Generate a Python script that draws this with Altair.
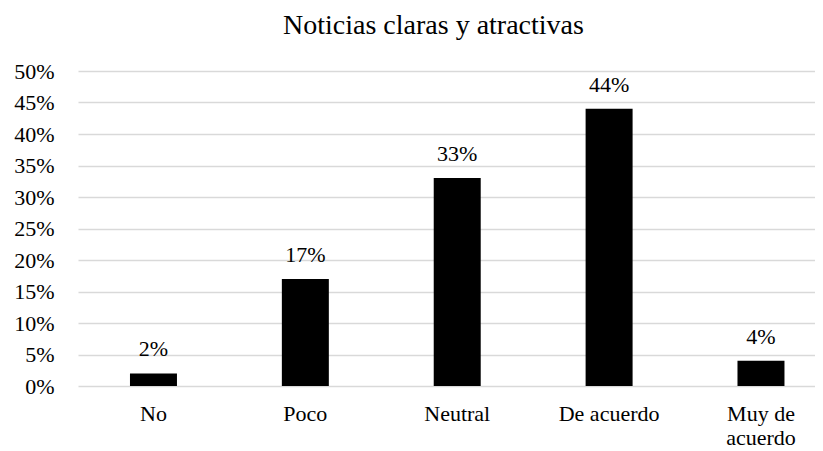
import altair as alt
import pandas as pd

categories = ["No", "Poco", "Neutral", "De acuerdo", "Muy de acuerdo"]
values = [2, 17, 33, 44, 4]
y_ticks = [0, 5, 10, 15, 20, 25, 30, 35, 40, 45, 50]
title_text = "Noticias claras y atractivas"

df = pd.DataFrame({"cat": categories, "val": values})
df["lbl"] = [f"{v}%" for v in values]

FONT = "Liberation Serif"

x = alt.X(
    "cat:N",
    sort=categories,
    scale=alt.Scale(paddingInner=0.6906, paddingOuter=0.2716, align=0.63),
    axis=alt.Axis(
        title=None, labelAngle=0, domain=False, ticks=False, labelPadding=17,
        labelFont=FONT, labelFontSize=22, labelColor="black", labelLineHeight=24,
        labelExpr="datum.label == 'Muy de acuerdo' ? ['Muy de', 'acuerdo'] : datum.label",
    ),
)
y = alt.Y(
    "val:Q",
    scale=alt.Scale(domain=[0, 50], nice=False),
    axis=alt.Axis(
        title=None, values=y_ticks, domain=False, ticks=False, labelPadding=24,
        labelFont=FONT, labelFontSize=22, labelColor="black",
        labelExpr="datum.value + '%'", gridColor="#d9d9d9", gridWidth=1.5,
    ),
)

bars = alt.Chart(df).mark_bar(color="black").encode(x=x, y=y)
text = alt.Chart(df).mark_text(
    font=FONT, fontSize=22, color="black", baseline="alphabetic", dy=-17
).encode(x=x, y=y, text="lbl:N")

chart = (bars + text).properties(
    width=737,
    height=315,
    padding={"left": 70, "top": 63, "right": 0, "bottom": 64},
    autosize=alt.AutoSizeParams(type="none"),
    title=alt.TitleParams(
        title_text, font=FONT, fontSize=28, fontWeight="normal", color="black",
        offset=20, dx=-13,
    ),
).configure_view(stroke=None)

chart.save("out.html", embed_options={"renderer": "svg", "actions": False})
